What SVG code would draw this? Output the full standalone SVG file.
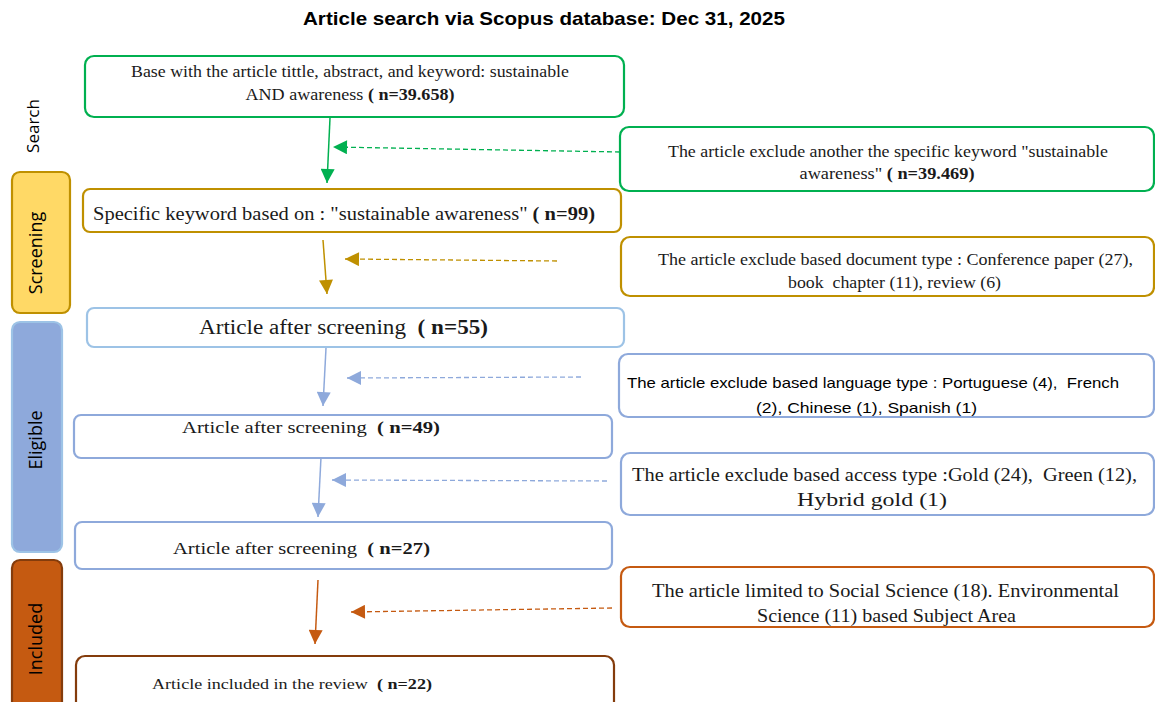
<svg xmlns="http://www.w3.org/2000/svg" width="1155" height="702" viewBox="0 0 1155 702">
<style>
.bg{fill:#ffffff}
.box{fill:#ffffff;stroke-width:2.2}
.g{stroke:#00B050}
.y{stroke:#BF9000}
.lb{stroke:#9DC3E6}
.b{stroke:#8EA9DB}
.o{stroke:#C55A11}
.br{stroke:#843C0C}
.t{font-family:"Liberation Serif","Times New Roman",serif;fill:#1a1a1a}
.s{font-family:"Liberation Sans",Arial,sans-serif;fill:#000000}
.lab{font-family:"Open Sans","Liberation Sans",sans-serif;fill:#000000}
.bold{font-weight:bold}
.solid{fill:none;stroke-width:1.5}
.dash{fill:none;stroke-width:1.3;stroke-dasharray:5 3}
</style>
<defs>
<marker id="aG" viewBox="0 0 10 10" refX="10" refY="5" markerUnits="userSpaceOnUse" markerWidth="15" markerHeight="14" orient="auto"><path d="M0,0 L10,5 L0,10 z" fill="#00B050"/></marker>
<marker id="aY" viewBox="0 0 10 10" refX="10" refY="5" markerUnits="userSpaceOnUse" markerWidth="15" markerHeight="14" orient="auto"><path d="M0,0 L10,5 L0,10 z" fill="#BF9000"/></marker>
<marker id="aB" viewBox="0 0 10 10" refX="10" refY="5" markerUnits="userSpaceOnUse" markerWidth="15" markerHeight="14" orient="auto"><path d="M0,0 L10,5 L0,10 z" fill="#8EA9DB"/></marker>
<marker id="aO" viewBox="0 0 10 10" refX="10" refY="5" markerUnits="userSpaceOnUse" markerWidth="15" markerHeight="14" orient="auto"><path d="M0,0 L10,5 L0,10 z" fill="#C55A11"/></marker>
</defs>
<rect class="bg" x="0" y="0" width="1155" height="702"/>

<text id="title" class="s bold" x="544" y="25" font-size="19" text-anchor="middle" textLength="482" lengthAdjust="spacingAndGlyphs">Article search via Scopus database: Dec 31, 2025</text>

<g id="phase-search">
<text class="lab" transform="translate(39,126) rotate(-90)" font-size="17" text-anchor="middle">Search</text>
</g>
<g id="phase-screening">
<rect x="12" y="172" width="58" height="141" rx="8" fill="#FFD966" stroke="#BF9000" stroke-width="2.2"/>
<text class="lab" transform="translate(42,253) rotate(-90)" font-size="18" text-anchor="middle">Screening</text>
</g>
<g id="phase-eligible">
<rect x="12" y="322" width="50" height="230" rx="8" fill="#8EA9DB" stroke="#9DC3E6" stroke-width="2.2"/>
<text class="lab" transform="translate(42,440) rotate(-90)" font-size="18" text-anchor="middle">Eligible</text>
</g>
<g id="phase-included">
<rect x="12" y="560" width="50" height="160" rx="8" fill="#C55A11" stroke="#843C0C" stroke-width="2.2"/>
<text class="lab" transform="translate(42,639) rotate(-90)" font-size="18" text-anchor="middle">Included</text>
</g>

<g id="n1">
<rect class="box g" x="85" y="56" width="539" height="61" rx="9"/>
<text class="t" x="350" y="77" font-size="16" text-anchor="middle" textLength="438" lengthAdjust="spacingAndGlyphs">Base with the article tittle, abstract, and keyword: sustainable</text>
<text class="t" x="350" y="100" font-size="16" text-anchor="middle" textLength="209" lengthAdjust="spacingAndGlyphs">AND awareness <tspan class="bold">( n=39.658)</tspan></text>
</g>
<g id="x1">
<rect class="box g" x="620" y="127" width="534" height="64" rx="9"/>
<text class="t" x="888" y="157" font-size="16" text-anchor="middle" textLength="440" lengthAdjust="spacingAndGlyphs">The article exclude another the specific keyword "sustainable</text>
<text class="t" x="887" y="179" font-size="16" text-anchor="middle" textLength="175" lengthAdjust="spacingAndGlyphs">awareness" <tspan class="bold">( n=39.469)</tspan></text>
</g>
<g id="n2">
<rect class="box y" x="83" y="189" width="538" height="43" rx="7"/>
<text class="t" x="93" y="220" font-size="18" textLength="502" lengthAdjust="spacingAndGlyphs">Specific keyword based on : "sustainable awareness" <tspan class="bold">( n=99)</tspan></text>
</g>
<g id="x2">
<rect class="box y" x="621" y="237" width="533" height="59" rx="9"/>
<text class="t" x="658" y="265" font-size="16" textLength="475" lengthAdjust="spacingAndGlyphs">The article exclude based document type : Conference paper (27),</text>
<text class="t" x="788" y="288" font-size="16" textLength="213" lengthAdjust="spacingAndGlyphs">book &#160;chapter (11), review (6)</text>
</g>
<g id="n3">
<rect class="box lb" x="87" y="308" width="537" height="39" rx="7"/>
<text class="t" x="199" y="334" font-size="20" textLength="289" lengthAdjust="spacingAndGlyphs">Article after screening &#160;<tspan class="bold">( n=55)</tspan></text>
</g>
<g id="x3">
<rect class="box b" x="619" y="354" width="535" height="63" rx="9"/>
<text class="s" x="627" y="388" font-size="15" textLength="492" lengthAdjust="spacingAndGlyphs">The article exclude based language type : Portuguese (4), &#160;French</text>
<text class="s" x="756" y="413" font-size="15" textLength="221" lengthAdjust="spacingAndGlyphs">(2), Chinese (1), Spanish (1)</text>
</g>
<g id="n4">
<rect class="box b" x="74" y="415" width="538" height="43" rx="7"/>
<text class="t" x="182" y="433" font-size="17" textLength="258" lengthAdjust="spacingAndGlyphs">Article after screening &#160;<tspan class="bold">( n=49)</tspan></text>
</g>
<g id="x4">
<rect class="box b" x="621" y="453" width="533" height="62" rx="9"/>
<text class="t" x="632" y="481" font-size="18" textLength="505" lengthAdjust="spacingAndGlyphs">The article exclude based access type :Gold (24), &#160;Green (12),</text>
<text class="t" x="797" y="506" font-size="18" textLength="150" lengthAdjust="spacingAndGlyphs">Hybrid gold (1)</text>
</g>
<g id="n5">
<rect class="box b" x="75" y="522" width="537" height="47" rx="7"/>
<text class="t" x="173" y="554" font-size="17" textLength="257" lengthAdjust="spacingAndGlyphs">Article after screening &#160;<tspan class="bold">( n=27)</tspan></text>
</g>
<g id="x5">
<rect class="box o" x="621" y="567" width="533" height="60" rx="9"/>
<text class="t" x="652" y="597" font-size="18" textLength="467" lengthAdjust="spacingAndGlyphs">The article limited to Social Science (18). Environmental</text>
<text class="t" x="757" y="622" font-size="18" textLength="259" lengthAdjust="spacingAndGlyphs">Science (11) based Subject Area</text>
</g>
<g id="n6">
<rect class="box br" x="76" y="656" width="538" height="60" rx="9"/>
<text class="t" x="152" y="689" font-size="15" textLength="280" lengthAdjust="spacingAndGlyphs">Article included in the review &#160;<tspan class="bold">( n=22)</tspan></text>
</g>

<g id="connectors">
<line class="solid" stroke="#00B050" x1="330" y1="118" x2="327" y2="183" marker-end="url(#aG)"/>
<line class="dash" stroke="#00B050" x1="620" y1="152" x2="333" y2="147" marker-end="url(#aG)"/>
<line class="solid" stroke="#BF9000" x1="323" y1="240" x2="327" y2="294" marker-end="url(#aY)"/>
<line class="dash" stroke="#BF9000" x1="557" y1="261" x2="345" y2="259" marker-end="url(#aY)"/>
<line class="solid" stroke="#8EA9DB" x1="326" y1="348" x2="323" y2="406" marker-end="url(#aB)"/>
<line class="dash" stroke="#8EA9DB" x1="581" y1="377" x2="347" y2="378" marker-end="url(#aB)"/>
<line class="solid" stroke="#8EA9DB" x1="321" y1="457" x2="318" y2="517" marker-end="url(#aB)"/>
<line class="dash" stroke="#8EA9DB" x1="607" y1="481" x2="332" y2="480" marker-end="url(#aB)"/>
<line class="solid" stroke="#C55A11" x1="318" y1="580" x2="315" y2="644" marker-end="url(#aO)"/>
<line class="dash" stroke="#C55A11" x1="612" y1="608" x2="351" y2="612" marker-end="url(#aO)"/>
</g>
</svg>
